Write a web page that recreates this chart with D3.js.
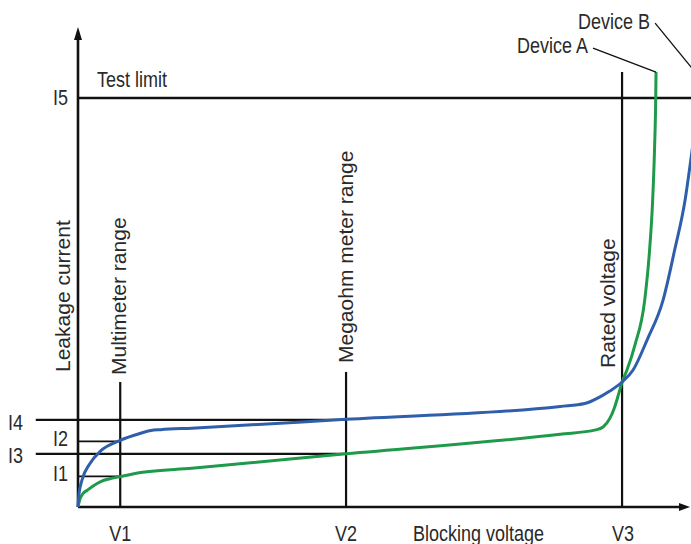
<!DOCTYPE html>
<html><head><meta charset="utf-8">
<script src="https://cdn.jsdelivr.net/npm/d3@7"></script>
<style>html,body{margin:0;padding:0;background:#fff;overflow:hidden}</style>
</head><body><svg id="chart" width="691" height="544"></svg>
<script>
// ---- data (abstract units: blocking voltage 0-100, leakage current 0-100) ----
const voltageLabels = ["V1", "V2", "V3"];
const voltageValues = [6.9, 43.8, 88.9];
const voltageMarkerTops = [26.1, 28.2, 90.8];
const voltageMarkerNames = ["Multimeter range", "Megaohm meter range", "Rated voltage"];

const currentLabels = ["I1", "I2", "I3", "I4", "I5"];
const currentValues = [6.4, 13.7, 11.1, 18.2, 85.4];
const currentLineFrom = [0, 0, -6.9, -6.9, 0];
const currentLineTo = [6.9, 6.9, 43.8, 43.8, 101];

const deviceAVoltage = [0, 0.33, 0.82, 1.52, 2.6, 3.71, 5.2, 6.7, 10.25, 18.6, 43.8, 78.8, 84.6, 85.8, 86.9, 87.7, 88.3, 88.9, 89.7, 91.0, 92.6, 93.4, 93.9, 94.2, 94.4, 94.45];
const deviceACurrent = [0, 1.7, 2.8, 3.5, 4.5, 5.3, 5.9, 6.3, 7.2, 8.1, 11.1, 15.2, 16.1, 16.7, 18.5, 20.9, 23.4, 26.1, 28.6, 33.8, 43.2, 53.7, 64.1, 74.5, 85.4, 90.8];

const deviceBVoltage = [0, 0.16, 0.65, 1.96, 3.71, 6.7, 10.25, 11.9, 13.5, 18.6, 43.8, 78.8, 82.8, 85.3, 86.9, 88.9, 90.7, 93.0, 95.6, 97.5, 99.2, 100.2, 101.1];
const deviceBCurrent = [0, 2.7, 5.6, 9.1, 11.7, 13.8, 15.4, 15.95, 16.15, 16.45, 18.3, 21.0, 21.6, 23.0, 24.2, 26.1, 28.6, 34.9, 43.2, 53.7, 64.1, 73.1, 81.8];

const deviceNames = ["Device A", "Device B"];
const deviceLeaderA = [[84.15, 95.8], [94.45, 90.8]];
const deviceLeaderB = [[94.3, 101.0], [101.6, 89.6]];

const axisTitleX = "Blocking voltage";
const axisTitleY = "Leakage current";
const limitTitle = "Test limit";

// ---- layout ----
const W = 691, H = 544;
const svg = d3.select("#chart");
const x = d3.scaleLinear().domain([0, 100]).range([78, 690]);
const y = d3.scaleLinear().domain([0, 100]).range([507, 28]);
const ink = "#111", txt = "#2a2a2a";
const green = "#1f9a4a", blue = "#2f5eab";
const FONT = "'Liberation Sans', Arial, sans-serif";

function hText(s, px, py, anchor) {
  svg.append("text").text(s)
    .attr("transform", `translate(${px},${py}) scale(1,1.2)`)
    .attr("text-anchor", anchor || "start")
    .attr("font-family", FONT).attr("font-size", 18).attr("fill", txt);
}
function vText(s, px, py) {
  svg.append("text").text(s)
    .attr("transform", `translate(${px},${py}) rotate(-90)`)
    .attr("font-family", FONT).attr("font-size", 21).attr("fill", txt);
}

// horizontal current level lines
currentValues.forEach((c, i) => {
  svg.append("line")
    .attr("x1", x(currentLineFrom[i])).attr("x2", Math.min(W, x(currentLineTo[i])))
    .attr("y1", y(c)).attr("y2", y(c))
    .attr("stroke", ink).attr("stroke-width", i === 4 ? 2.6 : (i < 2 ? 1.8 : 2.2));
});
// vertical voltage marker lines
voltageValues.forEach((v, i) => {
  svg.append("line")
    .attr("x1", x(v)).attr("x2", x(v))
    .attr("y1", y(voltageMarkerTops[i])).attr("y2", y(0))
    .attr("stroke", ink).attr("stroke-width", 2.2);
});

// axes (no ticks) with arrowheads
svg.append("line").attr("x1", x(0)).attr("x2", x(100) - 8)
  .attr("y1", y(0)).attr("y2", y(0)).attr("stroke", ink).attr("stroke-width", 2.6);
svg.append("line").attr("x1", x(0)).attr("x2", x(0))
  .attr("y1", y(0)).attr("y2", y(100) + 8).attr("stroke", ink).attr("stroke-width", 2.6);
svg.append("path")
  .attr("d", `M${x(100)},${y(0)} L${x(100) - 11},${y(0) - 4} L${x(100) - 11},${y(0) + 4} Z`)
  .attr("fill", ink);
svg.append("path")
  .attr("d", `M${x(0)},${y(100) - 1} L${x(0) - 4},${y(100) + 12} L${x(0) + 4},${y(100) + 12} Z`)
  .attr("fill", ink);

// curves
const line = d3.line().x(d => x(d[0])).y(d => y(d[1])).curve(d3.curveMonotoneX);
svg.append("path").datum(deviceAVoltage.map((v, i) => [v, deviceACurrent[i]]))
  .attr("d", line).attr("fill", "none").attr("stroke", green).attr("stroke-width", 3);
svg.append("path").datum(deviceBVoltage.map((v, i) => [v, deviceBCurrent[i]]))
  .attr("d", line).attr("fill", "none").attr("stroke", blue).attr("stroke-width", 3);

// device leaders + labels
[deviceLeaderA, deviceLeaderB].forEach((ld, i) => {
  svg.append("line")
    .attr("x1", x(ld[0][0])).attr("y1", y(ld[0][1]))
    .attr("x2", x(ld[1][0])).attr("y2", y(ld[1][1]))
    .attr("stroke", ink).attr("stroke-width", 1.3);
  hText(deviceNames[i], x(ld[0][0]) - 5, y(ld[0][1]) + 5 + i, "end");
});

// current labels
const curLabelX = [53, 53, 8, 8, 53];
const curLabelDy = [4.5, 4.5, 9, 10, 7];
currentLabels.forEach((s, i) => hText(s, curLabelX[i], y(currentValues[i]) + curLabelDy[i]));

// voltage labels
voltageLabels.forEach((s, i) => hText(s, x(voltageValues[i]) + (i === 2 ? 1 : 0), 540.5, "middle"));
hText(axisTitleX, 413, 540.5);
hText(limitTitle, 97, y(currentValues[4]) - 11);

// rotated labels
vText(axisTitleY, 70, 372);
const markerDx = [6, 7, -7];
const markerStartY = [375, 363, 368];
voltageMarkerNames.forEach((s, i) => vText(s, x(voltageValues[i]) + markerDx[i], markerStartY[i]));
</script>
</body></html>
